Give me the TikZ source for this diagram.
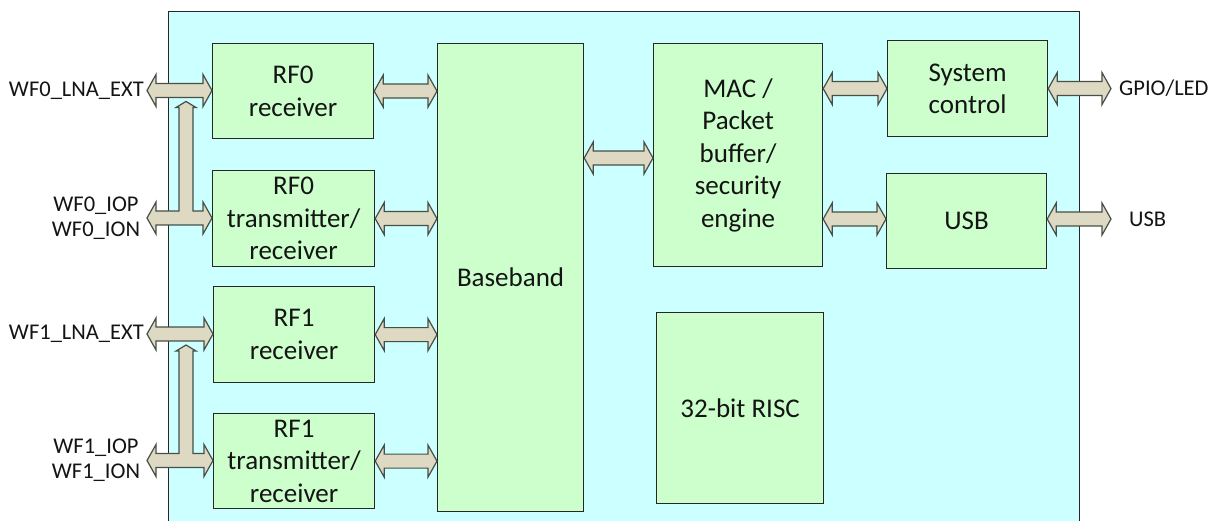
\documentclass[tikz,border=0pt]{standalone}
\usepackage{fontspec}
\setmainfont{Carlito}
\usetikzlibrary{calc}
\definecolor{outerfill}{RGB}{204,255,255}
\definecolor{boxfill}{RGB}{204,255,204}
\definecolor{arrfill}{RGB}{221,217,195}
\definecolor{arrline}{RGB}{70,80,70}
\definecolor{txt}{RGB}{20,20,20}
\tikzset{
  chipbox/.style={draw=black!85, line width=1.2pt, fill=outerfill, anchor=north west, inner sep=0pt},
  blk/.style={draw=black!85, line width=1.2pt, fill=boxfill, anchor=north west, inner sep=0pt,
              align=center, text=txt, font=\fontsize{27}{32.5}\selectfont},
  lbl/.style={font=\fontsize{22.5}{25}\selectfont, inner sep=0pt, align=center, text=txt},
  fatarrow/.style={draw=arrline, fill=arrfill, line width=1.2pt, line join=miter},
}
% horizontal fat double arrow between two points at the same height
\newcommand{\harr}[2]{\draw[fatarrow] let \p1=(#1), \p2=(#2) in
  (\x1,\y1) -- (\x1+9pt,\y1+16pt) -- (\x1+9pt,\y1+7pt) -- (\x2-9pt,\y1+7pt)
  -- (\x2-9pt,\y1+16pt) -- (\x2,\y1) -- (\x2-9pt,\y1-16pt) -- (\x2-9pt,\y1-7pt)
  -- (\x1+9pt,\y1-7pt) -- (\x1+9pt,\y1-16pt) -- cycle;}
% T-shaped double arrow with an upward branch ending below another arrow
\newcommand{\tarr}[3]{\draw[fatarrow] let \p1=(#1), \p2=(#2), \p3=(#3) in
  (\x1,\y1) -- (\x1+9pt,\y1+16pt) -- (\x1+9pt,\y1+7pt) -- (\x1+32pt,\y1+7pt)
  -- (\x1+32pt,\y3-17pt) -- (\x1+29pt,\y3-17pt) -- (\x1+39pt,\y3-11pt)
  -- (\x1+49pt,\y3-17pt) -- (\x1+46pt,\y3-17pt) -- (\x1+46pt,\y1+7pt)
  -- (\x2-9pt,\y1+7pt) -- (\x2-9pt,\y1+16pt) -- (\x2,\y1) -- (\x2-9pt,\y1-16pt)
  -- (\x2-9pt,\y1-7pt) -- (\x1+9pt,\y1-7pt) -- (\x1+9pt,\y1-16pt) -- cycle;}
\begin{document}
\begin{tikzpicture}[x=1pt,y=-1pt]
\useasboundingbox (0,0) rectangle (1225,521);
\node[chipbox, minimum width=911pt, minimum height=530pt] (chip) at (168,11) {};

\node[blk, minimum width=161pt, minimum height=95pt] (rf0r) at (212,43) {RF0\\receiver};
\node[blk, minimum width=162pt, minimum height=96pt] (rf0t) at (212,170) {RF0\\transmitter/\\receiver};
\node[blk, minimum width=161pt, minimum height=96pt] (rf1r) at (213,286) {RF1\\receiver};
\node[blk, minimum width=161pt, minimum height=95pt] (rf1t) at (213,413) {RF1\\transmitter/\\receiver};
\node[blk, minimum width=146pt, minimum height=468pt] (bb) at (437,43) {Baseband};
\node[blk, minimum width=169pt, minimum height=223pt] (mac) at (653,43) {MAC /\\Packet\\buffer/\\security\\engine};
\node[blk, minimum width=160pt, minimum height=96pt] (sys) at (887,40) {System\\control};
\node[blk, minimum width=160pt, minimum height=95pt] (usb) at (886,173) {USB};
\node[blk, minimum width=167pt, minimum height=191pt] (risc) at (656,312) {32-bit RISC};

% free ends of the external arrows
\coordinate (l0) at (147,90.5);
\coordinate (l1) at (147,218);
\coordinate (l2) at (147,334);
\coordinate (l3) at (147,460.5);
\coordinate (gpioend) at (1111,88);
\coordinate (usbend) at (1111,219);
\coordinate (bm) at (0,158);
\coordinate (mu) at (0,219);

% labels
\node[lbl, anchor=east] (t0) at (144,90.5) {WF0\_LNA\_EXT};
\node[lbl] (t1) at (96,218) {WF0\_IOP\\WF0\_ION};
\node[lbl, anchor=east] (t2) at (144,334) {WF1\_LNA\_EXT};
\node[lbl] (t3) at (96,460.5) {WF1\_IOP\\WF1\_ION};
\node[lbl, anchor=west] (t4) at (1119,88) {GPIO/LED};
\node[lbl, anchor=west] (t5) at (1129,219) {USB};

% arrows
\tarr{l1}{rf0t.west}{l0}
\harr{l0}{rf0r.west}
\tarr{l3}{rf1t.west}{l2}
\harr{l2}{rf1r.west}

\harr{rf0r.east}{bb.west |- rf0r.east}
\harr{rf0t.east}{bb.west |- rf0t.east}
\harr{rf1r.east}{bb.west |- rf1r.east}
\harr{rf1t.east}{bb.west |- rf1t.east}
\harr{bb.east |- bm}{mac.west |- bm}
\harr{mac.east |- sys.west}{sys.west}
\harr{mac.east |- mu}{usb.west |- mu}
\harr{sys.east}{gpioend}
\harr{usb.east |- mu}{usbend}
\end{tikzpicture}
\end{document}
